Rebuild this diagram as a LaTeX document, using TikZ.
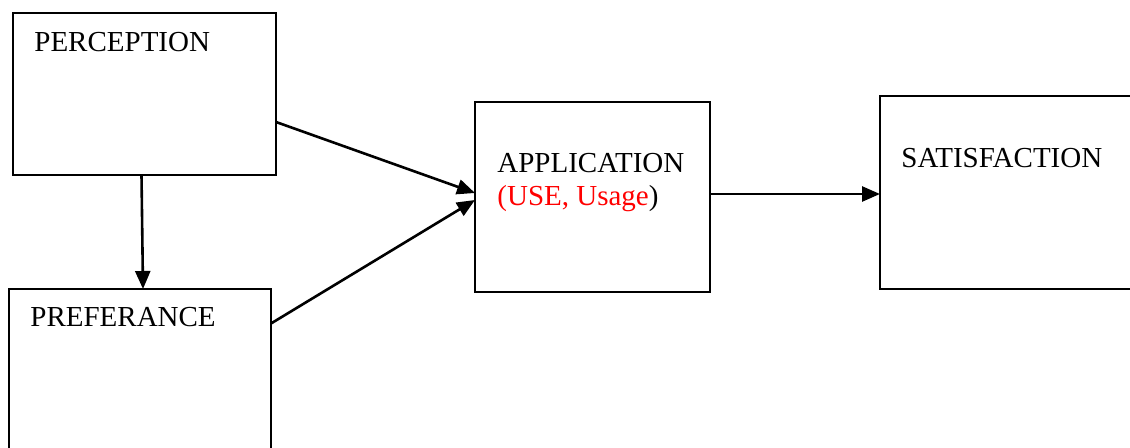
\documentclass[tikz,border=0pt]{standalone}
\usepackage{fontspec}
\setmainfont{Liberation Serif}
\usetikzlibrary{arrows.meta,calc}

\tikzset{
  box/.style={draw, line width=1pt, inner sep=0pt, outer sep=0pt},
  lbl/.style={anchor=base west, inner sep=0pt, font=\fontsize{14.5}{17}\selectfont},
  arr/.style={line width=1.3pt, -{Triangle[length=9pt,width=7.5pt]}}
}

\begin{document}
\begin{tikzpicture}[x=0.5pt,y=-0.5pt]
\useasboundingbox (0,0) rectangle (1130,448);
\clip (0,0) rectangle (1130,448);

% Boxes
\node[box, minimum width=131.5pt, minimum height=81pt] (percep) at (144.5,94) {};
\node[box, minimum width=131pt, minimum height=90.5pt] (pref) at (140,379.5) {};
\node[box, minimum width=117.5pt, minimum height=95pt] (app) at (592.5,197) {};
\node[box, minimum width=130pt, minimum height=96.5pt] (sat) at (1010,192.5) {};

% Box titles
\node[lbl] (percep-txt) at (34,52) {PERCEPTION};
\node[lbl] (pref-txt) at (30,327) {PREFERANCE};
\node[lbl] (app-txt) at (497,173) {APPLICATION};
\node[lbl] (app-use) at (497,206) {\textcolor{red}{(USE, Usage})};
\node[lbl] (sat-txt) at (901,168) {SATISFACTION};

% Connectors
\draw[arr] ([shift={(-3,0)}]percep.south) -- ([shift={(3,0)}]pref.north);
\draw[arr] ([shift={(0,28)}]percep.east) -- ([shift={(0,-4)}]app.west);
\draw[arr] ([shift={(0,-56)}]pref.east) -- ([shift={(0,3)}]app.west);
\draw[arr] ([shift={(0,-3)}]app.east) -- ([shift={(0,-3)}]app.east -| sat.west);

\end{tikzpicture}
\end{document}
